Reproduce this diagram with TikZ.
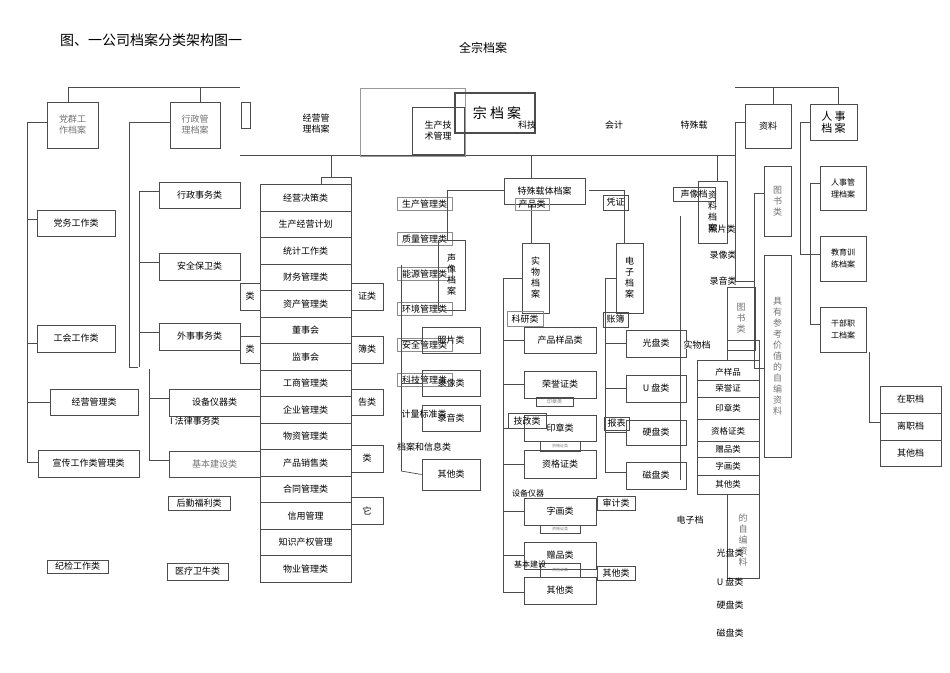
\documentclass[tikz,border=0pt]{standalone}
\usepackage{fontspec}
\setmainfont{Noto Sans CJK SC}
\begin{document}
\begin{tikzpicture}[x=1pt,y=-1pt,
  bx/.style={draw=black!70,line width=0.6pt,inner sep=0pt,font=\fontsize{9}{11}\selectfont,align=center},
  gbx/.style={bx,text=black!55},
  ln/.style={draw=black!70,line width=0.7pt},
  tx/.style={inner sep=0pt,font=\fontsize{9}{11}\selectfont,align=center}]
\newcommand\bx[7][]{\node[bx,#1,minimum width={(#5-#3)*1pt},minimum height={(#6-#4)*1pt}] (#2) at ({(#3+#5)/2},{(#4+#6)/2}) {#7};}
\useasboundingbox (0,0) rectangle (950,672);
% titles
\node[tx,font=\fontsize{14}{16}\selectfont,anchor=west] (title) at (60,40) {图、一公司档案分类架构图一};
\node[tx,font=\fontsize{12}{14}\selectfont] (qz) at (483,48) {全宗档案};
% top buses
\coordinate (t1) at (68,87); \coordinate (t2) at (240,87);
\draw[ln] (t1)--(t2);
\coordinate (r1) at (735,87); \coordinate (r2) at (838,87);
\draw[ln] (r1)--(r2);
\coordinate (m1) at (240,155); \coordinate (m2) at (735,155);
\draw[ln] (m1)--(m2);
% top-level boxes
\bx[gbx,line width=1pt]{dq}{47}{102}{98}{148}{党群工\\作档案}
\bx[gbx,line width=1pt]{xz}{170}{102}{220}{148}{行政管\\理档案}
\bx{sm}{241}{102}{250}{128}{}
\node[tx] (jy) at (316,124) {经营管\\理档案};
\bx[draw=black!40]{fr}{360}{88}{465}{156}{}
\bx[line width=1.4pt,font=\fontsize{14}{16}\selectfont]{zda}{455}{93}{535}{133}{\hspace*{4pt}宗 档 案}
\bx{scjs}{412}{107}{464}{154}{生产技\\术管理}
\node[tx] (kj) at (527,125) {科技};
\node[tx] (kjk) at (614,125) {会计};
\node[tx] (tsz) at (694,125) {特殊载};
\bx[line width=1pt]{zl}{745}{104}{791}{148}{资料}
\bx[line width=1pt,font=\fontsize{11}{12}\selectfont]{rs}{810}{104}{857}{140}{人 事\\档 案}
\draw[ln] (68,87)--(dq.north -| 68,0);
\draw[ln] (200,87)--(200,102);
\draw[ln] (773,87)--(773,104);
\draw[ln] (838,87)--(838,104);
% left branch (党群)
\draw[ln] (47,122)--(27,122)--(27,462)--(38,462);
\bx{dw}{37}{210}{115}{236}{党务工作类}
\bx{gh}{37}{325}{115}{352}{工会工作类}
\bx{jyg}{50}{389}{138}{415}{经营管理类}
\bx{xc}{38}{450}{139}{477}{宣传工作类管理类}
\bx{jj}{47}{560}{108}{573}{纪检工作类}
\draw[ln] (27,219)--(dw.west|-0,219);
\draw[ln] (27,343)--(37,343);
\draw[ln] (27,402)--(jyg.west);
% 行政 branch
\draw[ln] (170,122)--(129,122)--(129,367)--(138,367);
\draw[ln] (139,191)--(139,367);
\bx{xzsw}{159}{182}{240}{208}{行政事务类}
\bx{aq}{159}{253}{240}{280}{安全保卫类}
\bx{ws}{159}{323}{240}{350}{外事事务类}
\draw[ln] (139,191)--(159,191); \draw[ln] (139,262)--(159,262); \draw[ln] (139,332)--(159,332);
\draw[ln] (149,369)--(149,460);
\bx{sbyq}{169}{389}{260}{416}{设备仪器类}
\bx[gbx]{jbjs}{169}{451}{260}{477}{基本建设类}
\draw[ln] (149,398)--(169,398); \draw[ln] (149,460)--(169,460);
\node[tx] (fl) at (195,421) {I 法律事务类};
\bx{hq}{168}{496}{230}{510}{后勤福利类}
\bx{yl}{167}{563}{228}{580}{医疗卫牛类}
% middle column
\draw[ln] (331,155)--(331,177);
\bx{mtop}{321}{177}{351}{185}{}
\bx{pa}{240}{283}{260}{310}{类}
\bx{pb}{240}{336}{260}{363}{类}
\bx{pc}{351}{283}{383}{310}{证类}
\bx{pd}{351}{336}{383}{363}{簿类}
\bx{pe}{351}{389}{383}{415}{告类}
\bx{pf}{351}{445}{383}{472}{类}
\bx{pg}{351}{497}{383}{524}{它}
\foreach \t [count=\i from 0] in {经营决策类,生产经营计划,统计工作类,财务管理类,资产管理类,董事会,监事会,工商管理类,企业管理类,物资管理类,产品销售类,合同管理类,信用管理,知识产权管理,物业管理类}{
  \node[bx,fill=white,minimum width=91pt,minimum height=26.5pt] (c\i) at (305.5,{198+26.5*\i}) {\raisebox{-7pt}{\t}};
}
% 生产 column
\foreach \t/\y [count=\i] in {生产管理类/204,质量管理类/239,能源管理类/274,环境管理类/309,安全管理类/345,科技管理类/380}{
  \node[bx,draw=black!45,minimum width=55pt,minimum height=13pt] (s\i) at (424.5,\y) {\t};
}
\node[tx] (s7) at (424,414) {计量标准类};
\node[tx] (s8) at (424,447) {档案和信息类};
\draw[ln] (401,265)--(401,471);
\bx[line width=1pt]{sx}{438}{240}{465}{310}{声\\像\\档\\案}
\bx{zp}{422}{327}{480}{353}{照片类}
\bx{lx}{422}{370}{480}{396}{录像类}
\bx{ly}{422}{405}{480}{431}{录音类}
\bx{qt1}{422}{459}{480}{490}{其他类}
\draw[ln] (401,340)--(zp.west); \draw[ln] (401,383)--(lx.west); \draw[ln] (401,471)--(qt1.west);
% 特殊载体
\draw[ln] (531,155)--(531,178);
\bx{tszt}{504}{178}{585}{204}{特殊载体档案}
\draw[ln] (504,190)--(447,190)--(447,240);
\draw[ln] (589,190)--(624,190)--(624,243);
\draw[ln] (531,204)--(531,243);
\node[bx,draw=black!45,minimum width=34pt,minimum height=12pt] (cp) at (532,204) {产品类};
\bx{pz}{603}{195}{628}{210}{凭证}
\bx{swda}{522}{243}{549}{313}{实\\物\\档\\案}
\bx{dzda}{616}{243}{643}{313}{电\\子\\档\\案}
% 实物 column
\draw[ln] (503,278)--(503,592)--(524,592);
\draw[ln] (503,278)--(522,278);
\foreach \t/\a/\b [count=\i] in {产品样品类/327/353,荣誉证类/371/398,印章类/415/441,资格证类/450/478,字画类/498/525,赠品类/542/569}{
  \bx{w\i}{524}{\a}{596}{\b}{\t}
  \draw[ln] (503,{(\a+\b)/2}) -- (w\i.west);
}
\bx[line width=1pt]{w7}{524}{577}{596}{604}{其他类}
\bx[font=\fontsize{5}{6}\selectfont,text=black!50]{y1}{536}{397}{573}{406}{印章类}
\bx[font=\fontsize{4}{5}\selectfont,text=black!50]{y2}{540}{441}{580}{451}{资格证类}
\bx[font=\fontsize{4}{5}\selectfont,text=black!50]{y3}{540}{525}{580}{533}{资格证类}
\bx[font=\fontsize{4}{5}\selectfont,text=black!50]{y4}{540}{563}{580}{577}{资格证类}
\node[bx,draw=black!45,minimum width=36pt,minimum height=15pt] (ky) at (525,319) {科研类};
\node[bx,minimum width=38pt,minimum height=15pt] (jg) at (527,421) {技改类};
\node[tx,font=\fontsize{8}{9}\selectfont] (sbyq2) at (528,493) {设备仪器};
\node[tx,font=\fontsize{8}{9}\selectfont] (jbjs2) at (530,564) {基本建设};
\bx{sj}{597}{496}{635}{510}{审计类}
\bx{qt2}{597}{566}{635}{580}{其他类}
% 电子 column
\draw[ln] (605,278)--(605,472)--(626,472);
\draw[ln] (605,278)--(616,278);
\foreach \t/\a/\b [count=\i] in {光盘类/330/357,U 盘类/375/402,硬盘类/420/445}{
  \bx{d\i}{626}{\a}{686}{\b}{\t}
  \draw[ln] (605,{(\a+\b)/2}) -- (d\i.west);
}
\bx{d4}{626}{462}{686}{489}{磁盘类}
\bx{zb}{603}{312}{628}{327}{账簿}
\bx{bb}{604}{417}{629}{430}{报表}
% 资料档案 / 声像
\draw[ln] (717,155)--(717,181);
\bx{zlda}{698}{181}{727}{243}{资\\料\\档\\案}
\bx{sxd}{673}{187}{715}{201}{声像档}
\draw[ln] (680,216)--(680,480);
\node[tx] (zp2) at (722,229) {照片类};
\node[tx] (lx2) at (723,255) {录像类};
\node[tx] (ly2) at (723,281) {录音类};
\bx[gbx]{ts2}{727}{287}{755}{350}{图\\书\\类}
\node[tx,fill=white] (swd) at (697,345) {实物档};
\bx{bk}{727}{340}{759}{578}{}
\node[tx,text=black!55] (zb2) at (743,540) {的\\自\\编\\资\\料};
\node[bx,fill=white,minimum width=62pt,minimum height=134pt] (st) at (728,427) {};
\foreach \t/\y in {产样品/372,荣誉证/388,印章类/408,资格证类/431,赠品类/449,字画类/466,其他类/484}{
  \node[tx,font=\fontsize{8.5}{10}\selectfont] at (728,\y) {\t};
}
\foreach \y in {380,397,419,441,457,475}{\draw[ln] (697,\y)--(759,\y);}
\node[tx] (dzd) at (690,520) {电子档};
\node[tx] (gp) at (730,553) {光盘类};
\node[tx] (up) at (730,582) {U 盘类};
\node[tx] (yp) at (730,605) {硬盘类};
\node[tx] (cp2) at (730,633) {磁盘类};
% 资料 branch
\draw[ln] (745,122)--(735,122)--(735,281)--(754,281);
\draw[ln] (764,193)--(754,193)--(754,368)--(764,368);
\bx[gbx,line width=1pt]{ts}{764}{166}{791}{236}{图\\书\\类}
\bx[gbx,line width=1pt]{zbzl}{764}{255}{791}{457}{具\\有\\参\\考\\价\\值\\的\\自\\编\\资\\料}
% 人事 branch
\draw[ln] (810,122)--(800,122)--(800,254)--(820,254);
\draw[ln] (820,183)--(810,183)--(810,324)--(820,324);
\bx[font=\fontsize{8}{12}\selectfont]{rsgl}{820}{166}{866}{210}{人事管\\理档案}
\bx[font=\fontsize{8}{12}\selectfont]{jypx}{820}{236}{866}{281}{教育训\\练档案}
\bx[font=\fontsize{8}{12}\selectfont,line width=1pt]{gb}{820}{307}{866}{352}{干部职\\工档案}
\draw[ln] (869,352)--(869,422)--(880,422);
\bx{zz}{880}{386}{941}{413}{\raisebox{-6pt}{在职档}}
\bx{lz}{880}{413}{941}{440}{\raisebox{-6pt}{离职档}}
\bx{qtd}{880}{440}{941}{466}{\raisebox{-6pt}{其他档}}
\end{tikzpicture}
\end{document}
